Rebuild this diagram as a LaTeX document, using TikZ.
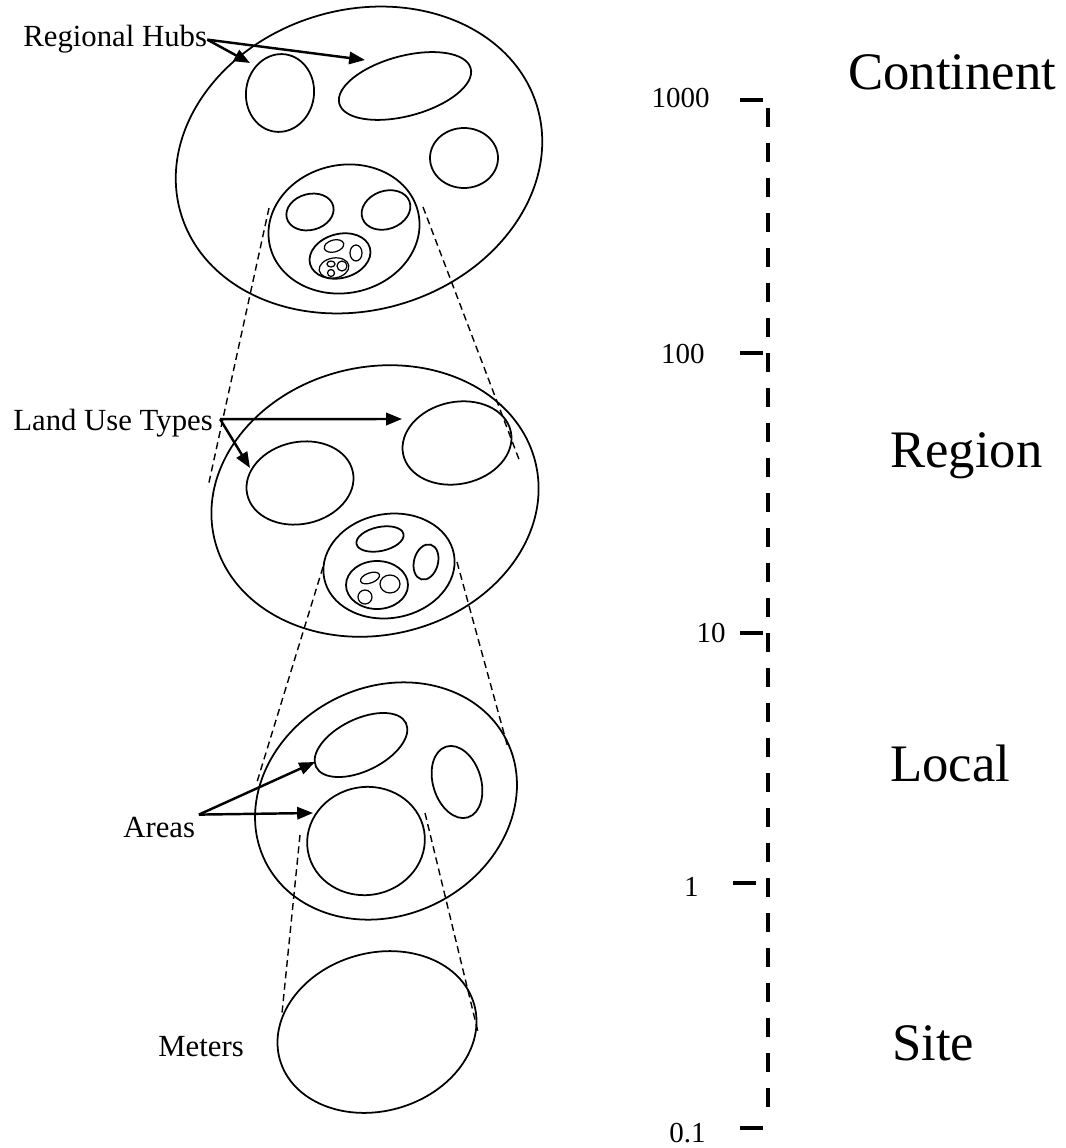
\documentclass[tikz,border=0pt]{standalone}
\usepackage{fontspec}
\setmainfont{Liberation Serif}
\usetikzlibrary{arrows.meta}

\begin{document}
\begin{tikzpicture}[x=0.02cm,y=-0.02cm,
    every node/.style={font=\fontsize{17.5}{20}\selectfont,inner sep=0pt},
    zone/.style={line width=1pt},
    speck/.style={line width=0.7pt},
    zoomline/.style={line width=0.8pt,dash pattern=on 4pt off 2.5pt},
    pointer/.style={line width=1.4pt,-{Triangle[length=9pt,width=7pt]}},
    scalename/.style={font=\fontsize{30}{36}\selectfont,anchor=base west},
    scaleaxis/.style={line width=2.3pt,dash pattern=on 0.38cm off 0.32cm}]
  \useasboundingbox (0,0) rectangle (1065,1148);

  % nested areas, continent down to site
  \foreach \cx/\cy/\a/\b/\r in {359/160/186/150/17, 280/93/34/39/-8, 405/86/68/30/15,
      464/158/34/30/0, 344/229/76/64/12, 310/212/24/18/15, 386/210/25/19/20,
      340/256/31/22/15,
      375/501/165/134/13, 300/483/54/41/12, 457/443/55/41/12, 389/566/66/52/10,
      380/539/24/12/12, 426/562/12/18/-15, 377/585/31/24/0,
      386/801/135/114/27, 361/745/50/26/26, 457/782/24/37/17, 366/841/59/54/10,
      377/1032/101/79/16}
    \draw[zone,rotate around={\r:(\cx,\cy)}] (\cx,\cy) ellipse [x radius=\a, y radius=\b];
  \foreach \cx/\cy/\a/\b/\r in {334/246/10/6/15, 356/253/6/8/0, 334/268/15/10/10,
      331/264/4/3/0, 342/266/5/5/0, 331/273/3.5/3.5/0,
      370/578/10/5/20, 390/584/10/9/0, 365/597/7/7/0}
    \draw[speck,rotate around={\r:(\cx,\cy)}] (\cx,\cy) ellipse [x radius=\a, y radius=\b];

  \coordinate (c1a) at (269,208); \coordinate (c1b) at (423,207);
  \coordinate (r1a) at (208,487); \coordinate (r1b) at (520,462);
  \coordinate (c2a) at (323,567); \coordinate (c2b) at (457,562);
  \coordinate (r2a) at (257,782); \coordinate (r2b) at (508,748);
  \coordinate (c3a) at (300,835); \coordinate (c3b) at (425,813);
  \coordinate (r3a) at (282,1013); \coordinate (r3b) at (478,1032);
  \draw[zoomline] (c1a) -- (r1a) (c1b) -- (r1b);
  \draw[zoomline] (c2a) -- (r2a) (c2b) -- (r2b);
  \draw[zoomline] (c3a) -- (r3a) (c3b) -- (r3b);

  \node[anchor=base west] (hubs) at (23,47) {Regional Hubs};
  \node[anchor=base west] (landuse) at (13,430) {Land Use Types};
  \node[anchor=base west] (areas) at (123,837) {Areas};
  \node[anchor=base west] (meters) at (158,1056) {Meters};
  \coordinate (hubA) at (250,63); \coordinate (hubB) at (365,60);
  \coordinate (luA) at (402,419); \coordinate (luB) at (250,468);
  \coordinate (areaA) at (315,762); \coordinate (areaB) at (313,813);
  \draw[pointer] (hubs.east) -- (hubA);
  \draw[pointer] (hubs.east) -- (hubB);
  \draw[pointer] ([xshift=4pt,yshift=2pt]landuse.east) -- (luA);
  \draw[pointer] ([xshift=4pt,yshift=2pt]landuse.east) -- (luB);
  \draw[pointer] ([xshift=2pt,yshift=1pt]areas.north east) -- (areaA);
  \draw[pointer] ([xshift=2pt,yshift=1pt]areas.north east) -- (areaB);

  % scale in km
  \draw[scaleaxis] (768,108) -- (768,1118);
  \foreach \y/\xa in {100/740, 353/740, 633/740, 883/733, 1128/740}
    \draw[line width=2.3pt] (\xa,\y) -- ++(23,0);
  \foreach \y/\xl/\v [count=\i] in {108/710/1000, 363/705/100, 642/726/10, 896/699/1, 1142/706/0.1}
    \node[anchor=base east,font=\fontsize{16.5}{20}\selectfont] (tick\i) at (\xl,\y) {\v};
  \node[scalename] (continent) at (848,90) {Continent};
  \node[scalename] (region) at (890,467) {Region};
  \node[scalename] (local) at (890,781) {Local};
  \node[scalename] (site) at (892,1060) {Site};
\end{tikzpicture}
\end{document}
